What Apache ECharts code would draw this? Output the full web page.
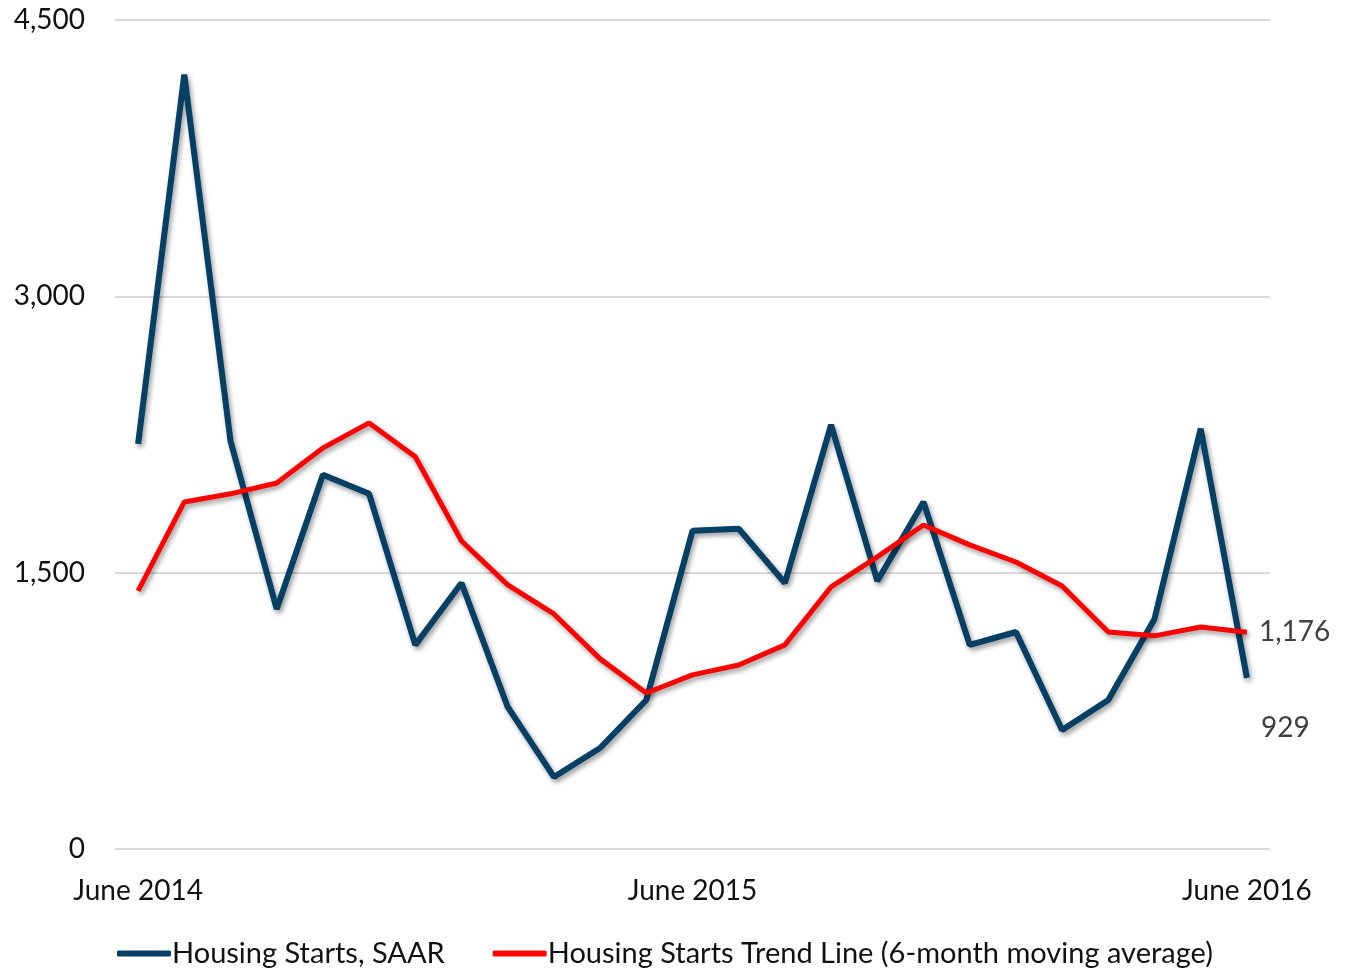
<!DOCTYPE html>
<html lang="en">
<head>
    <meta charset="UTF-8">
    <title>Housing Starts</title>
    <script src="https://cdn.jsdelivr.net/npm/echarts@6/dist/echarts.min.js"></script>
    <style>
        body { margin: 0; background: #fff; }
    </style>
</head>
<body>
    <div id="main" style="width: 1351px;height: 973px;"></div>
    <script>
        // months June 2014 .. June 2016
        var months = ['Jun 2014', 'Jul 2014', 'Aug 2014', 'Sep 2014', 'Oct 2014', 'Nov 2014', 'Dec 2014',
            'Jan 2015', 'Feb 2015', 'Mar 2015', 'Apr 2015', 'May 2015', 'Jun 2015', 'Jul 2015', 'Aug 2015',
            'Sep 2015', 'Oct 2015', 'Nov 2015', 'Dec 2015', 'Jan 2016', 'Feb 2016', 'Mar 2016', 'Apr 2016',
            'May 2016', 'Jun 2016'];
        var tickLabels = { 'Jun 2014': 'June 2014', 'Jun 2015': 'June 2015', 'Jun 2016': 'June 2016' };

        var starts = [2199, 4203, 2215, 1303, 2031, 1928, 1108, 1444, 771, 391, 548, 809, 1727,
            1738, 1444, 2302, 1455, 1884, 1108, 1178, 646, 809, 1249, 2281, 929];
        var trend = [1401, 1884, 1928, 1987, 2177, 2313, 2129, 1672, 1434, 1276, 1032, 847, 945,
            999, 1108, 1423, 1586, 1759, 1651, 1558, 1428, 1178, 1157, 1205, 1176];

        var font = 'Lato';
        var shadow = { shadowColor: 'rgba(0,0,0,0.4)', shadowBlur: 5, shadowOffsetX: 2, shadowOffsetY: 3 };

        function fmt(v) { return Number(v).toLocaleString('en-US'); }

        var myChart = echarts.init(document.getElementById('main'));
        var option = {
            backgroundColor: '#fff',
            animation: false,
            textStyle: { fontFamily: font },
            grid: { left: 115, right: 81, top: 20, bottom: 124 },
            legend: {
                bottom: 0,
                left: 112,
                icon: 'roundRect',
                itemWidth: 54,
                itemHeight: 6,
                itemGap: 48,
                textStyle: { fontFamily: font, fontSize: 29, color: '#111', padding: [0, 0, 0, -4] },
                data: ['Housing Starts, SAAR', 'Housing Starts Trend Line (6-month moving average)']
            },
            xAxis: {
                type: 'category',
                data: months,
                boundaryGap: true,
                axisLine: { show: false },
                axisTick: { show: false },
                axisLabel: {
                    interval: 11,
                    margin: 28,
                    fontSize: 28,
                    color: '#111',
                    fontFamily: font,
                    formatter: function (v) { return tickLabels[v] || ''; }
                }
            },
            yAxis: {
                type: 'value',
                min: 0,
                max: 4500,
                interval: 1500,
                axisLine: { show: false },
                axisTick: { show: false },
                splitLine: { lineStyle: { color: '#d9d9d9', width: 2 } },
                axisLabel: {
                    margin: 30,
                    fontSize: 28,
                    color: '#111',
                    fontFamily: font,
                    formatter: fmt
                }
            },
            series: [
                {
                    name: 'Housing Starts, SAAR',
                    type: 'line',
                    symbol: 'none',
                    color: '#053f63',
                    lineStyle: Object.assign({ width: 6, color: '#053f63' }, shadow),
                    endLabel: {
                        show: true,
                        offset: [6, 50],
                        fontSize: 28,
                        color: '#404040',
                        fontFamily: font,
                        formatter: function (p) { return fmt(p.value); }
                    },
                    data: starts,
                    z: 2
                },
                {
                    name: 'Housing Starts Trend Line (6-month moving average)',
                    type: 'line',
                    symbol: 'none',
                    color: '#ff0000',
                    lineStyle: Object.assign({ width: 5, color: '#ff0000' }, shadow),
                    endLabel: {
                        show: true,
                        distance: 12,
                        fontSize: 28,
                        color: '#404040',
                        fontFamily: font,
                        formatter: function (p) { return fmt(p.value); }
                    },
                    data: trend,
                    z: 3
                }
            ]
        };
        myChart.setOption(option);
    </script>
</body>
</html>
